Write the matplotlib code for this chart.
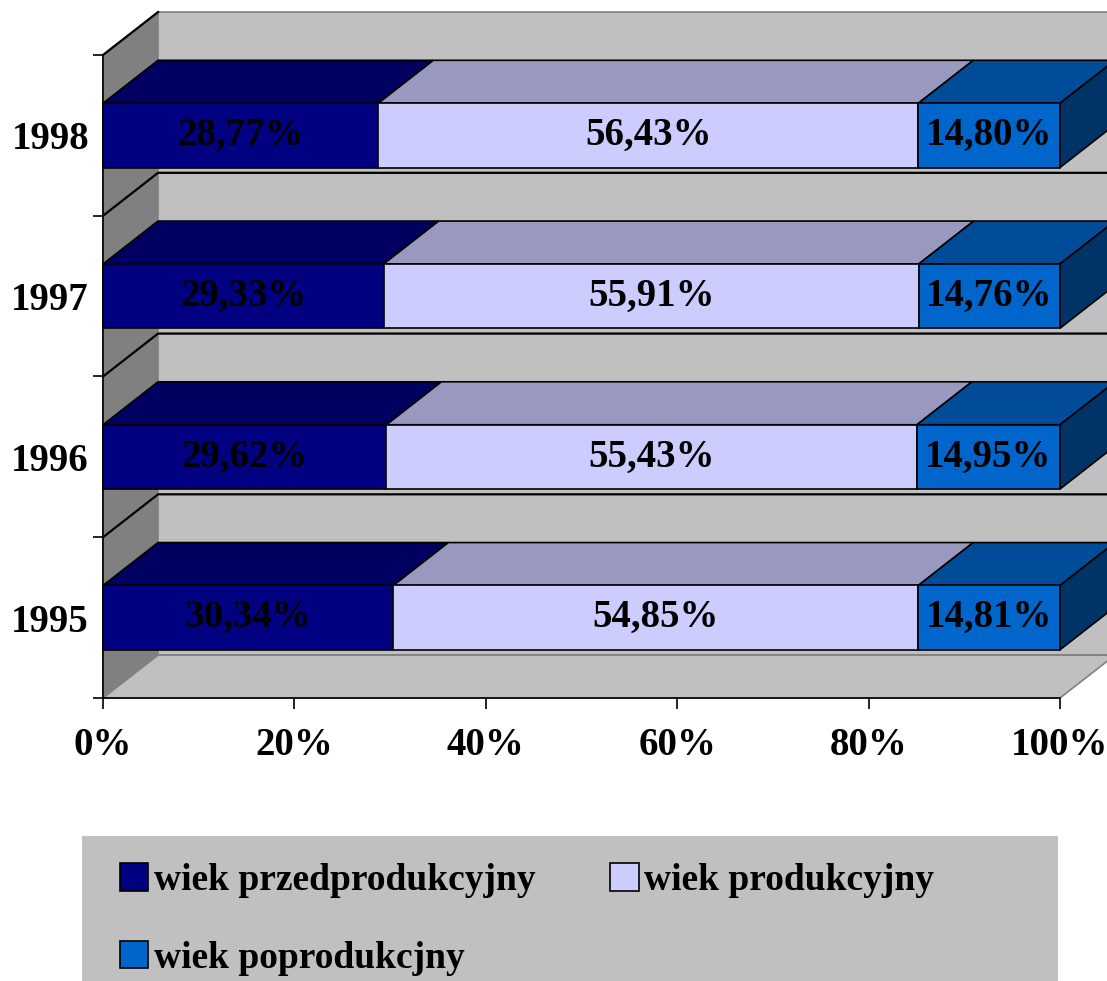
import matplotlib
matplotlib.use('Agg')
import matplotlib.pyplot as plt
from matplotlib.patches import Polygon, Rectangle, Patch

# data
years = ['1995', '1996', '1997', '1998']
przed = [30.34, 29.62, 29.33, 28.77]
prod = [54.85, 55.43, 55.91, 56.43]
popr = [14.81, 14.95, 14.76, 14.80]
series_names = ['wiek przedprodukcyjny', 'wiek produkcyjny', 'wiek poprodukcjny']
x_ticks = [0, 20, 40, 60, 80, 100]

front_cols = ['#000080', '#CCCCFF', '#0066CC']
top_cols = ['#000060', '#9999C0', '#004C99']
side_col = '#003366'

DX = 5.75    # depth, in % units
DY = 0.267   # depth, in category units
BH = 0.4     # bar height

plt.rcParams['font.family'] = ['Liberation Serif', 'DejaVu Serif']
plt.rcParams['font.weight'] = 'bold'

W, H = 1107, 981
fig = plt.figure(figsize=(W / 100, H / 100), dpi=100)
ax = fig.add_axes([103 / W, 1 - 698 / H, 957 / W, 643 / H])
n = len(years)
lo, hi = -0.5, n - 0.5
ax.set_xlim(0, 100)
ax.set_ylim(lo, hi)
ax.patch.set_visible(False)


def poly(pts, fc, ec='black', lw=1.2, z=1):
    ax.add_patch(Polygon(pts, closed=True, facecolor=fc, edgecolor=ec, lw=lw,
                         zorder=z, clip_on=False, joinstyle='miter'))


# walls and floor
poly([(0, lo), (0, hi), (DX, hi + DY), (DX, lo + DY)], '#808080', ec='#808080')
poly([(DX, lo + DY), (DX, hi + DY), (100 + DX, hi + DY), (100 + DX, lo + DY)], '#C0C0C0', ec='#808080')
poly([(0, lo), (100, lo), (100 + DX, lo + DY), (DX, lo + DY)], '#C0C0C0', ec='#808080')

# gridlines on the walls
for b in [k + 0.5 for k in range(n - 1)]:
    ax.plot([0, DX, 100 + DX], [b, b + DY, b + DY], color='black', lw=1.6,
            clip_on=False, zorder=1.5, solid_joinstyle='miter')
ax.plot([0, DX], [hi, hi + DY], color='black', lw=1.6, clip_on=False, zorder=1.5)

# bars
data = [przed, prod, popr]
for i in range(n):
    left = 0
    y0, y1 = i - BH / 2, i + BH / 2
    for s, vals in enumerate(data):
        v = vals[i]
        r = left + v
        poly([(left, y1), (r, y1), (r + DX, y1 + DY), (left + DX, y1 + DY)], top_cols[s], z=2)
        ax.barh(i, v, left=left, height=BH, color=front_cols[s], edgecolor='black',
                lw=1.2, zorder=2.2, clip_on=False)
        ax.text(left + v / 2, i, f'{v:.2f}%'.replace('.', ','), ha='center', va='center',
                fontsize=28, fontweight='bold', zorder=4)
        left = r
    poly([(left, y0), (left + DX, y0 + DY), (left + DX, y1 + DY), (left, y1)], side_col, z=2)

# axes
ax.set_xticks(x_ticks)
ax.set_xticklabels([f'{t}%' for t in x_ticks])
ax.set_yticks([k - 0.5 for k in range(n + 1)])
ax.set_yticklabels([])
ax.set_yticks(range(n), minor=True)
ax.set_yticklabels(years, minor=True)
ax.tick_params(axis='y', which='major', length=7, width=1.2)
ax.tick_params(axis='y', which='minor', length=0, pad=10, labelsize=28)
ax.tick_params(axis='x', length=8, width=1.2, pad=13, labelsize=28)
for sp in ['top', 'right']:
    ax.spines[sp].set_visible(False)
for sp in ['left', 'bottom']:
    ax.spines[sp].set_linewidth(1.2)
    ax.spines[sp].set_zorder(3)

# legend
fig.add_artist(Rectangle((82 / W, 0), 976 / W, 145 / H, transform=fig.transFigure,
                         facecolor='#C0C0C0', edgecolor='none', zorder=0))
handles = [Patch(facecolor=front_cols[k], edgecolor='black', lw=1.2) for k in range(3)]
order = [0, 2, 1]
fig.legend([handles[k] for k in order], [series_names[k] for k in order], ncol=2,
           loc='upper left', bbox_to_anchor=(120 / W, 1 - 863 / H), frameon=False,
           prop={'size': 27, 'weight': 'bold'}, handlelength=0.75, handleheight=0.75,
           handletextpad=0.15, columnspacing=2.0, labelspacing=1.14,
           borderpad=0, borderaxespad=0)

fig.savefig('out.png', dpi=100)
